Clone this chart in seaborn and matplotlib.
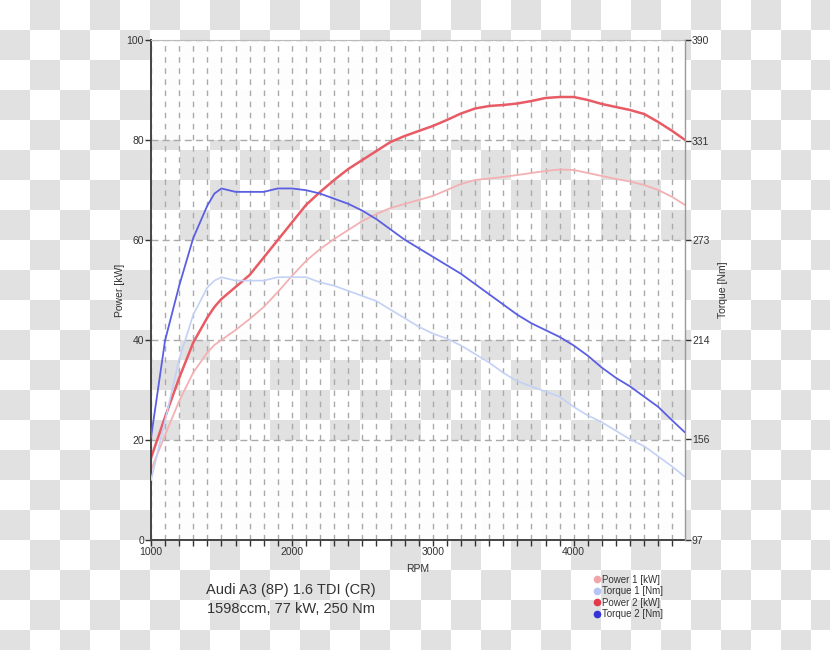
import matplotlib
matplotlib.use("Agg")
import matplotlib.pyplot as plt
from matplotlib.lines import Line2D
from matplotlib.ticker import MultipleLocator
import numpy as np
import pandas as pd
import seaborn as sns

# dyno readings
rpm = [1000, 1100, 1200, 1300, 1400, 1450, 1500, 1600, 1700, 1800, 1900,
       2000, 2100, 2200, 2300, 2400, 2500, 2600, 2700, 2800, 2900,
       3000, 3100, 3200, 3300, 3400, 3500, 3600, 3700, 3800, 3900,
       4000, 4100, 4200, 4300, 4400, 4500, 4600, 4700, 4790]
power_1 = [14.0, 21.0, 27.8, 33.5, 37.5, 39.0, 40.0, 42.0, 44.2, 46.6, 49.6,
           52.8, 55.8, 58.2, 60.2, 62.0, 63.8, 65.2, 66.4, 67.2, 68.0,
           68.8, 70.0, 71.2, 72.0, 72.3, 72.6, 73.0, 73.4, 73.8, 74.1,
           74.0, 73.4, 72.8, 72.2, 71.7, 71.0, 70.0, 68.6, 67.0]
torque_1 = [132, 167, 203, 229, 245, 249, 251, 249, 249, 249, 251,
            251, 251, 248, 246, 243, 240, 237, 232, 227, 222,
            218, 215, 211, 206, 201, 195, 190, 187, 184, 181,
            175, 170, 166, 161, 156, 152, 146, 140, 134]
power_2 = [16.4, 24.6, 32.4, 39.5, 44.5, 46.6, 48.2, 50.6, 53.0, 56.5, 60.0,
           63.5, 67.0, 69.6, 72.0, 74.2, 76.0, 77.8, 79.6, 80.8, 81.8,
           82.8, 84.0, 85.3, 86.3, 86.8, 87.0, 87.3, 87.8, 88.4, 88.6,
           88.6, 88.0, 87.2, 86.6, 86.0, 85.2, 83.6, 81.8, 80.0]
torque_2 = [157, 214, 246, 274, 293, 300, 303, 301, 301, 301, 303,
            303, 302, 300, 297, 294, 290, 285, 279, 273, 268,
            263, 258, 253, 247, 241, 235, 229, 224, 220, 216,
            211, 205, 198, 192, 187, 181, 175, 167, 160]

power_ticks = [0, 20, 40, 60, 80, 100]
torque_ticks = [97, 156, 214, 273, 331, 390]
rpm_labels = [1000, 2000, 3000, 4000]

labels = ["Power 1 [kW]", "Torque 1 [Nm]", "Power 2 [kW]", "Torque 2 [Nm]"]
colors = {"Power 1 [kW]": "#f3b1b3", "Torque 1 [Nm]": "#c3d1f6",
          "Power 2 [kW]": "#e85b65", "Torque 2 [Nm]": "#5b5fe2"}
marker_colors = {"Power 1 [kW]": "#f0a5a8", "Torque 1 [Nm]": "#b5c6f4",
                 "Power 2 [kW]": "#e23a48", "Torque 2 [Nm]": "#3434d8"}

power_df = pd.DataFrame({"RPM": rpm, "Power 1 [kW]": power_1,
                         "Power 2 [kW]": power_2}).melt("RPM", var_name="series", value_name="kW")
torque_df = pd.DataFrame({"RPM": rpm, "Torque 1 [Nm]": torque_1,
                          "Torque 2 [Nm]": torque_2}).melt("RPM", var_name="series", value_name="Nm")

sns.set_style("white")
plt.rcParams["font.family"] = ["Liberation Sans", "DejaVu Sans"]
text_col = "#333333"

fig = plt.figure(figsize=(8.3, 6.5), dpi=100)

# transparent-background checkerboard behind everything
bg = fig.add_axes([0, 0, 1, 1], zorder=-1)
yy, xx = np.mgrid[0:650, 0:830]
checker = ((xx // 30 + yy // 30) % 2).astype(float)
bg.imshow(checker, cmap=matplotlib.colors.ListedColormap(["#ffffff", "#e1e1e1"]),
          extent=(0, 830, 650, 0), aspect="auto", interpolation="nearest")
bg.axis("off")

ax = fig.add_axes([151 / 830, 110 / 650, 534 / 830, 500 / 650])
ax.set_facecolor("none")
for lo, hi in [(0, 20), (40, 60), (80, 100)]:
    ax.axhspan(lo, hi, color="white", alpha=0.95, zorder=0, lw=0)

sns.lineplot(data=power_df, x="RPM", y="kW", hue="series", hue_order=["Power 1 [kW]", "Power 2 [kW]"],
             palette=colors, ax=ax, legend=False, linewidth=1.6)
for line, lw in zip(ax.lines, [1.3, 1.8]):
    line.set_linewidth(lw)
    line.set_solid_joinstyle("round")

ax.set_xlim(1000, 4790)
ax.set_ylim(0, 100)
ax.set_xticks(rpm_labels)
ax.xaxis.set_minor_locator(MultipleLocator(100))
ax.set_yticks(power_ticks)
ax.grid(False)
ax.grid(axis="y", which="major", color="#aaaaaa", linestyle=(0, (5, 3)), linewidth=1)
ax.grid(axis="x", which="both", color="#aaaaaa", linestyle=(0, (4, 4)), linewidth=1)
ax.set_axisbelow(True)
ax.tick_params(axis="both", which="both", direction="out", length=4, width=1,
               colors=text_col, labelsize=7.5, pad=1, bottom=True, left=True)
ax.set_xlabel("RPM", fontsize=7.5, color=text_col, labelpad=5)
ax.set_ylabel("Power [kW]", fontsize=7.5, color=text_col, labelpad=1.5)
for side in ["left", "bottom"]:
    ax.spines[side].set_color("#444444")
    ax.spines[side].set_linewidth(1.4)
ax.spines["top"].set_color("#bbbbbb")
ax.spines["top"].set_linewidth(0.8)
ax.spines["right"].set_visible(False)

ax2 = ax.twinx()
sns.lineplot(data=torque_df, x="RPM", y="Nm", hue="series", hue_order=["Torque 1 [Nm]", "Torque 2 [Nm]"],
             palette=colors, ax=ax2, legend=False)
for line, lw in zip(ax2.lines, [1.2, 1.3]):
    line.set_linewidth(lw)
    line.set_solid_joinstyle("round")
ax2.set_ylim(97, 390)
ax2.set_yticks(torque_ticks)
ax2.grid(False)
ax2.tick_params(axis="y", direction="out", length=4, width=1, colors=text_col,
                labelsize=7.5, pad=1)
ax2.set_ylabel("Torque [Nm]", fontsize=7.5, color=text_col, labelpad=6)
for side in ["left", "bottom", "top"]:
    ax2.spines[side].set_visible(False)
ax2.spines["right"].set_color("#999999")
ax2.spines["right"].set_linewidth(1)

fig.text(291 / 830, 1 - 590 / 650, "Audi A3 (8P) 1.6 TDI (CR)", ha="center", va="center",
         fontsize=10.5, color=text_col)
fig.text(291 / 830, 1 - 609 / 650, "1598ccm, 77 kW, 250 Nm", ha="center", va="center",
         fontsize=10.5, color=text_col)

handles = [Line2D([], [], linestyle="none", marker="o", markersize=4.5,
                  markerfacecolor=marker_colors[k], markeredgecolor=marker_colors[k]) for k in labels]
fig.legend(handles, labels, loc="upper left", bbox_to_anchor=(590 / 830, 1 - 570 / 650),
           frameon=False, fontsize=7, labelcolor=text_col, handlelength=0.5,
           handletextpad=0.2, labelspacing=0.15, borderpad=0)

fig.savefig("out.png", dpi=100)
